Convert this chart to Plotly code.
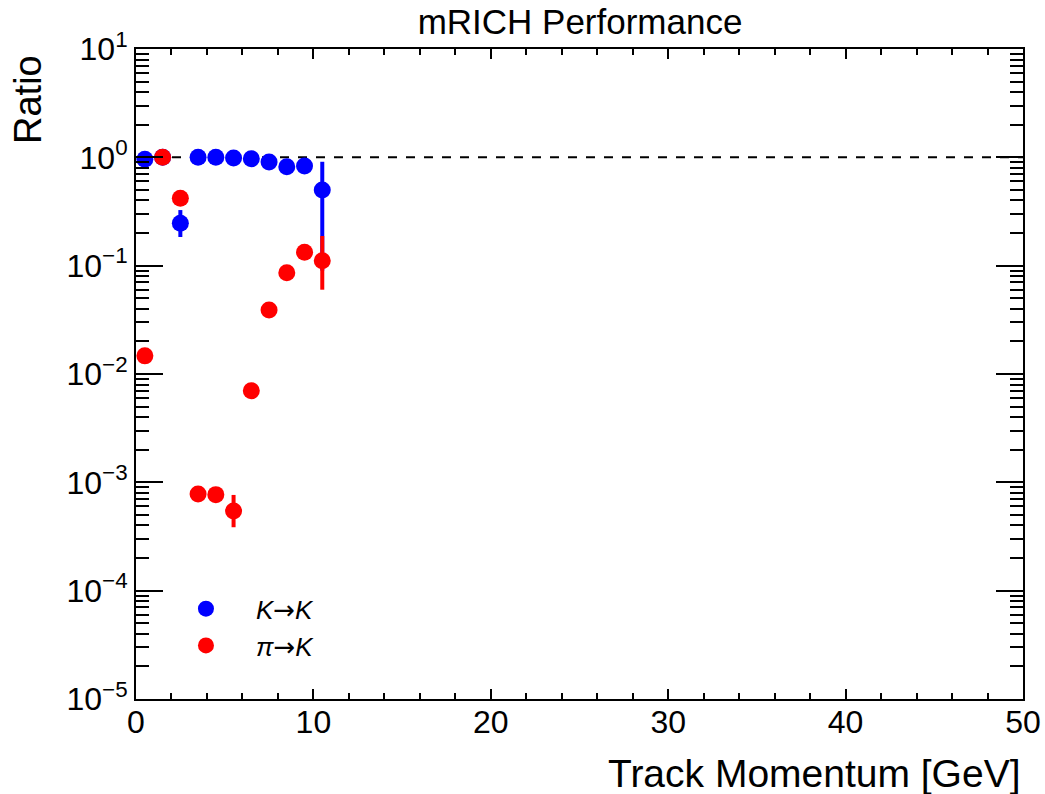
import plotly.graph_objects as go

# ---- data ----
momentum = [0.5, 1.5, 2.5, 3.5, 4.5, 5.5, 6.5, 7.5, 8.5, 9.5, 10.5]

k_to_k = [0.96, 1.0, 0.246, 1.0, 1.0, 0.985, 0.97, 0.905, 0.82, 0.83, 0.50]
k_to_k_err_plus = [0.01, 0.01, 0.08, 0.01, 0.01, 0.01, 0.01, 0.01, 0.01, 0.01, 0.41]
k_to_k_err_minus = [0.01, 0.01, 0.062, 0.01, 0.01, 0.01, 0.01, 0.01, 0.01, 0.01, 0.41]

pi_to_k = [0.0147, 1.0, 0.42, 7.8e-4, 7.7e-4, 5.45e-4, 0.0070, 0.039, 0.086, 0.133, 0.111]
pi_to_k_err_plus = [0.0005, 0.01, 0.01, 0.3e-4, 0.9e-4, 2.2e-4, 0.0002, 0.001, 0.002, 0.003, 0.077]
pi_to_k_err_minus = [0.0005, 0.01, 0.01, 0.3e-4, 0.9e-4, 1.6e-4, 0.0002, 0.001, 0.002, 0.003, 0.051]

ref_x = [0, 50]
ref_y = [1, 1]

x_tick_vals = [0, 10, 20, 30, 40, 50]
y_tick_vals = [1e-5, 1e-4, 1e-3, 1e-2, 1e-1, 1, 10]
y_tick_text = ["10<sup>\u22125</sup>", "10<sup>\u22124</sup>", "10<sup>\u22123</sup>",
               "10<sup>\u22122</sup>", "10<sup>\u22121</sup>", "10<sup>0</sup>", "10<sup>1</sup>"]

FONT = "Liberation Sans, Arial, Helvetica, sans-serif"
ARROW = "<span style=\"font-family:'DejaVu Sans'\">\u2192</span>"

fig = go.Figure()

fig.add_trace(go.Scatter(
    x=ref_x, y=ref_y, mode="lines",
    line=dict(color="black", width=2, dash="dash"),
    showlegend=False, hoverinfo="skip"))

fig.add_trace(go.Scatter(
    x=momentum, y=k_to_k, mode="markers", name="<i>K</i>" + ARROW + "<i>K</i>",
    marker=dict(color="#0000ff", size=17, line=dict(width=0)),
    error_y=dict(type="data", symmetric=False, array=k_to_k_err_plus,
                 arrayminus=k_to_k_err_minus, color="#0000ff", thickness=4, width=0)))

fig.add_trace(go.Scatter(
    x=momentum, y=pi_to_k, mode="markers", name="<i>\u03c0</i>" + ARROW + "<i>K</i>",
    marker=dict(color="#ff0000", size=17, line=dict(width=0)),
    error_y=dict(type="data", symmetric=False, array=pi_to_k_err_plus,
                 arrayminus=pi_to_k_err_minus, color="#ff0000", thickness=4, width=0)))

fig.update_layout(
    width=1045, height=794,
    margin=dict(l=136, r=22, t=49, b=95),
    paper_bgcolor="white", plot_bgcolor="white",
    font=dict(family=FONT, color="black", size=24),
    title=dict(text="mRICH Performance", x=0.5006, xref="paper", xanchor="center",
               y=1 - 22 / 794, yanchor="middle", font=dict(size=35)),
    showlegend=True,
    legend=dict(x=0.0225, y=0.175, xanchor="left", yanchor="top",
                bgcolor="rgba(0,0,0,0)", font=dict(size=26), itemsizing="trace",
                itemwidth=90, tracegroupgap=0),
    xaxis=dict(range=[0, 50], showgrid=False, zeroline=False, automargin=False,
               showline=True, linecolor="black", linewidth=2, mirror="allticks",
               ticks="inside", ticklen=10, tickwidth=1.5, tickcolor="black",
               tickvals=x_tick_vals, ticklabelstandoff=-6,
               minor=dict(dtick=2, ticks="inside", ticklen=6, tickwidth=1.5,
                          tickcolor="black", showgrid=False),
               tickfont=dict(size=32)),
    yaxis=dict(type="log", range=[-5, 1], showgrid=False, zeroline=False, automargin=False,
               showline=True, linecolor="black", linewidth=2, mirror="allticks",
               ticks="inside", ticklen=27, tickwidth=1.5, tickcolor="black",
               tickvals=y_tick_vals, ticktext=y_tick_text,
               minor=dict(dtick="D1", ticks="inside", ticklen=13, tickwidth=1.5,
                          tickcolor="black", showgrid=False),
               tickfont=dict(size=32)),
    annotations=[
        dict(text="Track Momentum [GeV]", xref="paper", yref="paper",
             x=1.0, y=-0.114, xanchor="right", yanchor="middle",
             showarrow=False, font=dict(size=39)),
        dict(text="Ratio", xref="paper", yref="paper",
             x=(28 - 136) / 887, y=(699 - 100) / 650, xanchor="center", yanchor="middle",
             textangle=-90, showarrow=False, font=dict(size=38)),
    ],
)

fig.write_html("out.html", config={"displayModeBar": False},
               post_script="document.body.style.margin='0';")
